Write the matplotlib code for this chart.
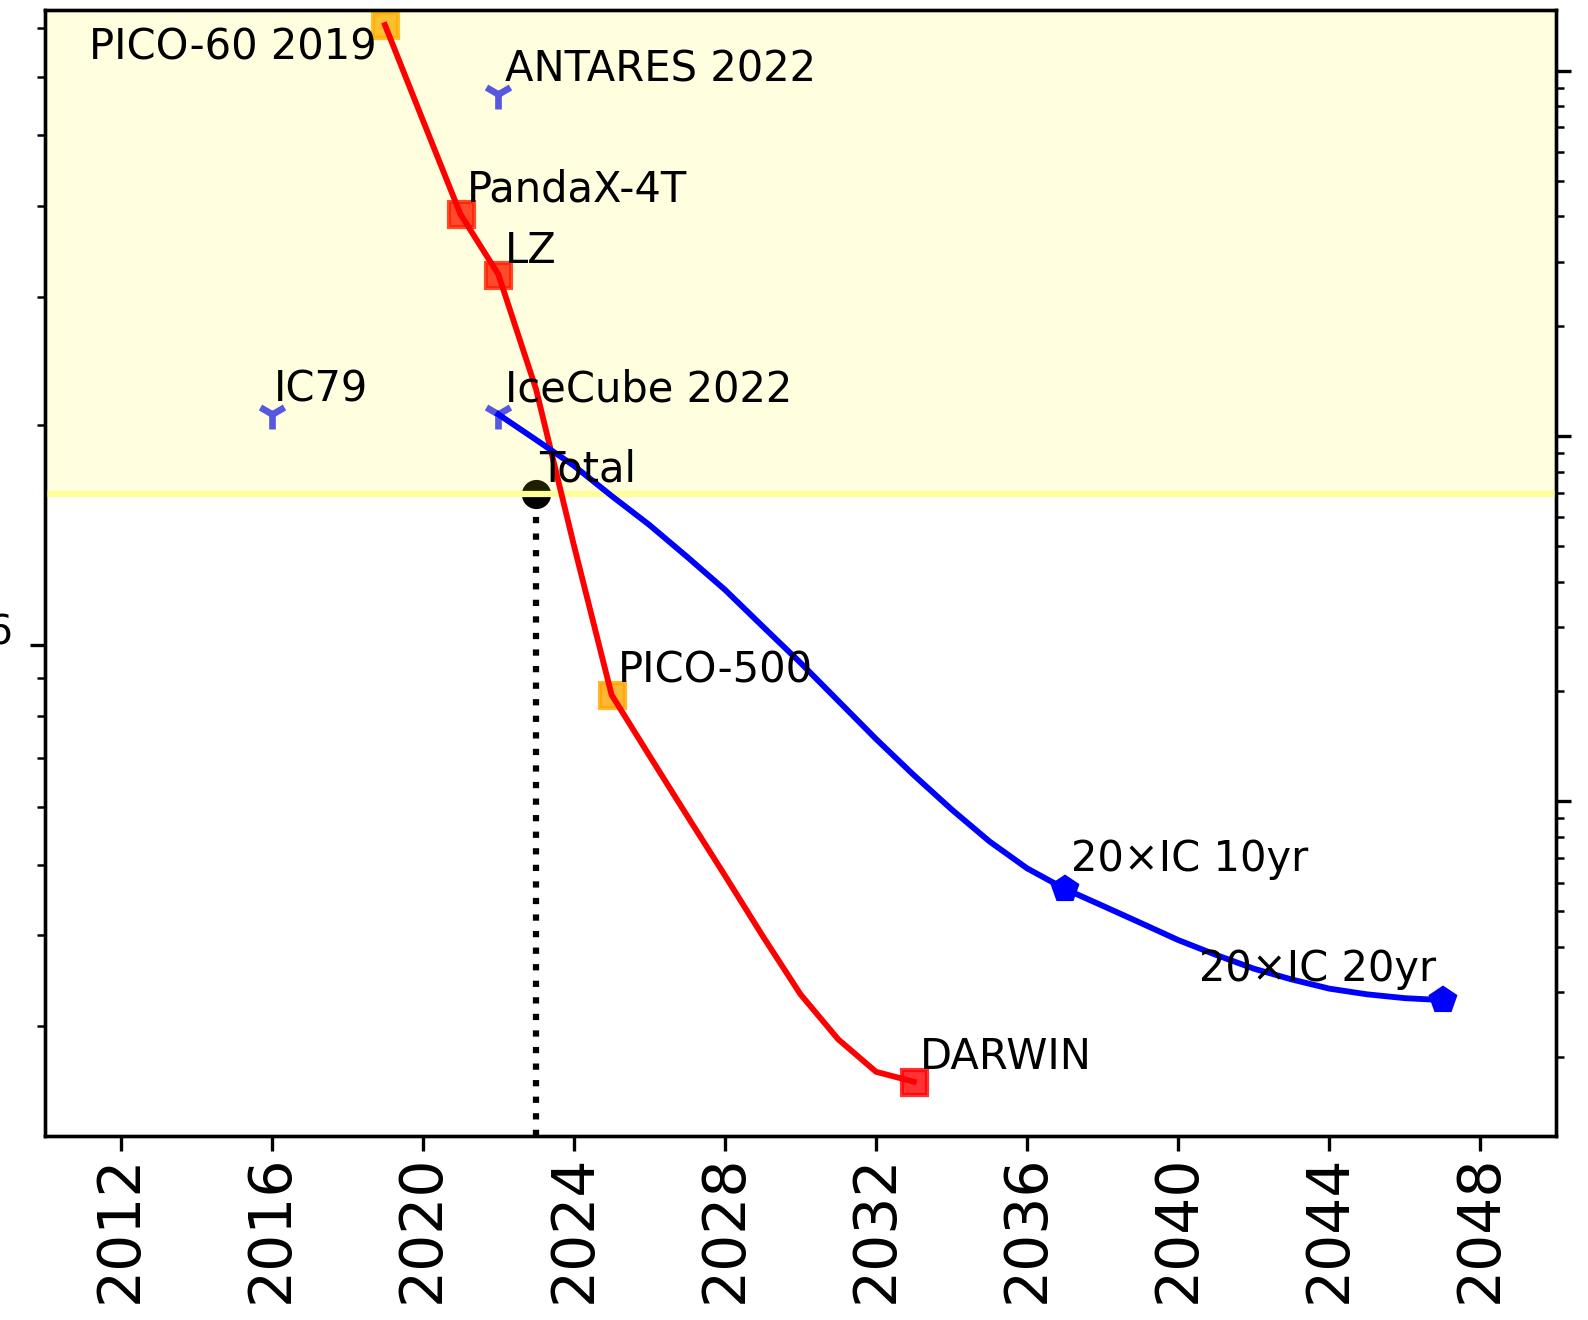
import numpy as np
import matplotlib.pyplot as plt

# best direct-detection reach per year (cm^2)
dd_years = np.arange(2019, 2034)
dd_sigma = [7.07e-46, 5.24e-46, 3.89e-46, 3.22e-46, 2.24e-46, 1.37e-46, 8.54e-47,
            7.05e-47, 5.83e-47, 4.83e-47, 3.99e-47, 3.32e-47, 2.88e-47, 2.60e-47,
            2.52e-47]

# neutrino-telescope reach per year (cm^2)
nt_years = np.arange(2022, 2048)
nt_sigma = [2.07e-46, 1.91e-46, 1.76e-46, 1.60e-46, 1.46e-46, 1.32e-46, 1.19e-46,
            1.06e-46, 9.45e-47, 8.38e-47, 7.43e-47, 6.63e-47, 5.95e-47, 5.38e-47,
            4.94e-47, 4.63e-47, 4.39e-47, 4.16e-47, 3.94e-47, 3.76e-47, 3.60e-47,
            3.48e-47, 3.38e-47, 3.32e-47, 3.28e-47, 3.26e-47]

# experiments
exp_names = ['PICO-60 2019', 'PandaX-4T', 'LZ', 'PICO-500', 'DARWIN']
exp_years = [2019, 2021, 2022, 2025, 2033]
exp_sigma = [7.07e-46, 3.89e-46, 3.21e-46, 8.55e-47, 2.52e-47]
exp_colors = ['orange', 'red', 'red', 'orange', 'red']

nu_names = ['IC79', 'ANTARES 2022', 'IceCube 2022']
nu_years = [2016, 2022, 2022]
nu_sigma = [2.07e-46, 5.69e-46, 2.07e-46]

proj_names = ['20×IC 10yr', '20×IC 20yr']
proj_years = [2037, 2047]
proj_sigma = [4.63e-47, 3.26e-47]

total_year = 2023
total_sigma = 1.61e-46

fig = plt.figure(figsize=(1588 / 300, 1320 / 300), dpi=300)
ax = fig.add_axes([45 / 1588, 1 - 1136 / 1320, 1511 / 1588, 1126 / 1320])
ax.set_yscale('log')
ax.set_xlim(2010, 2050)
ax.set_ylim(10**-46.673, 10**-45.130)

# total reached so far
ax.plot(total_year, total_sigma, 'o', color='black', zorder=2)
ax.axhspan(total_sigma, 10**-45.130, color='yellow', alpha=0.12, lw=0, zorder=2.5)
ax.axhline(total_sigma, color='#ffff99', lw=1.5, zorder=2.6)
ax.vlines(total_year, 10**-46.673, total_sigma, colors='black', linestyles=':',
          lw=1.5, zorder=2.7)

for name, yr, s, c in zip(exp_names, exp_years, exp_sigma, exp_colors):
    ax.plot(yr, s, 's', color=c, alpha=0.8, zorder=2.4)
for yr, s in zip(nu_years, nu_sigma):
    ax.plot(yr, s, '1', color='blue', alpha=0.75, ms=7, mew=1.6, zorder=2.4)
ax.plot(proj_years, proj_sigma, 'p', color='blue', ls='none', zorder=3.1)

ax.plot(dd_years, dd_sigma, color='red', lw=1.4, zorder=3)
ax.plot(nt_years, nt_sigma, color='blue', lw=1.4, zorder=3)

# labels
offsets = {'PICO-60 2019': (-2, -8.3, 'right'), '20×IC 10yr': (1.5, 4.3, 'left'),
           '20×IC 20yr': (-1.5, 4.5, 'right'), 'Total': (0.8, 3, 'left'),
           'IC79': (0.6, 3, 'left')}
labels = list(zip(exp_names, exp_years, exp_sigma)) + \
    list(zip(nu_names, nu_years, nu_sigma)) + \
    list(zip(proj_names, proj_years, proj_sigma)) + \
    [('Total', total_year, total_sigma)]
for name, yr, s in labels:
    dx, dy, ha = offsets.get(name, (1.5, 3, 'left'))
    ax.annotate(name, (yr, s), xytext=(dx, dy), textcoords='offset points',
                ha=ha, va='baseline', fontsize=10, zorder=4)

ax.set_xticks(np.arange(2012, 2049, 4))
ax.tick_params(axis='x', labelsize=14, labelrotation=90, pad=1.0)
ax.tick_params(axis='y', labelsize=14, pad=4.5)

ax2 = ax.twinx()
ax2.set_yscale('log')
ax2.set_ylim(10**-42.9157, 10**-39.8336)
ax2.tick_params(labelright=False)

fig.savefig('out.png', dpi=300)
